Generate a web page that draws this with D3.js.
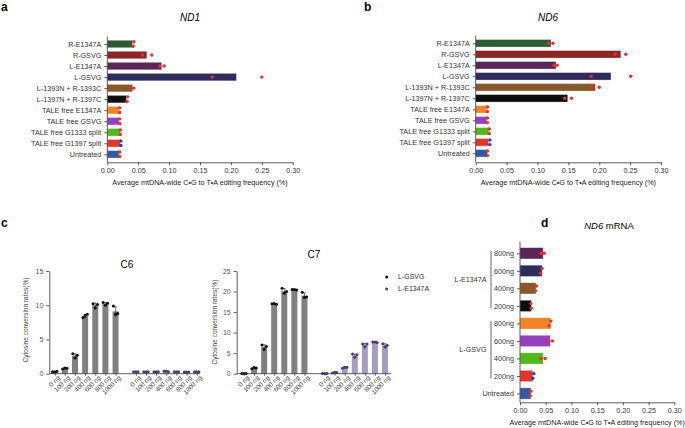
<!DOCTYPE html>
<html>
<head>
<meta charset="utf-8">
<script src="https://cdn.jsdelivr.net/npm/d3@7"></script>
<style>
body { margin: 0; background: #fff; }
svg { font-family: Arial, "Liberation Sans", Helvetica, sans-serif; }
.axis text { fill: #333; }
.axis line, .axis path { stroke: #333; stroke-width: 0.8; }
</style>
</head>
<body>
<div id="chart"></div>
<script>
// ---- panel a / b data ----
var samples = ["R-E1347A", "R-GSVG", "L-E1347A", "L-GSVG", "L-1393N + R-1393C", "L-1397N + R-1397C",
    "TALE free E1347A", "TALE free GSVG", "TALE free G1333 split", "TALE free G1397 split", "Untreated"];
var sampleColors = ["#2d5b33", "#8c2525", "#5a2557", "#2f2c5c", "#87592b", "#0e0e0e",
    "#f28329", "#9440bf", "#52b81c", "#e0372a", "#3457a6"];
var sampleDotColors = ["#e8312a", "#e8312a", "#e8312a", "#e8312a", "#e8312a", "#e8312a",
    "#e8312a", "#e8312a", "#e8312a", "#2f3fb0", "#e8312a"];
var nd1Means = [0.041, 0.064, 0.088, 0.209, 0.041, 0.031, 0.019, 0.019, 0.021, 0.021, 0.019];
var nd1Rep1  = [0.043, 0.057, 0.085, 0.170, 0.039, 0.033, 0.020, 0.020, 0.021, 0.022, 0.020];
var nd1Rep2  = [0.042, 0.072, 0.092, 0.250, 0.043, 0.032, 0.020, 0.020, 0.021, 0.022, 0.020];
var nd6Means = [0.122, 0.235, 0.130, 0.219, 0.194, 0.149, 0.018, 0.018, 0.021, 0.021, 0.019];
var nd6Rep1  = [0.118, 0.226, 0.127, 0.187, 0.189, 0.144, 0.019, 0.019, 0.022, 0.023, 0.019];
var nd6Rep2  = [0.125, 0.243, 0.132, 0.251, 0.200, 0.155, 0.019, 0.019, 0.022, 0.023, 0.019];
var editTicks = [0, 0.05, 0.10, 0.15, 0.20, 0.25, 0.30];
var editTitle = "Average mtDNA-wide C\u2022G to T\u2022A editing frequency (%)";

// ---- panel c data ----
var doses = ["0 ng", "100 ng", "200 ng", "400 ng", "600 ng", "800 ng", "1000 ng"];
var editors = ["L-GSVG", "L-E1347A"];
var editorBarColors = ["#808080", "#a69dc0"];
var editorDotColors = ["#111111", "#4b3d7c"];
var c6GsvgMeans = [0.3, 0.8, 2.6, 8.4, 10.0, 10.2, 9.1];
var c6GsvgReps = [[0.3, 0.25, 0.35], [0.7, 0.85, 0.8], [2.9, 2.3, 2.7], [8.2, 8.5, 8.7], [10.2, 9.6, 10.1], [10.4, 10.0, 10.3], [9.9, 8.7, 8.8]];
var c6E1347aMeans = [0.3, 0.3, 0.3, 0.35, 0.3, 0.25, 0.3];
var c6E1347aReps = [[0.3, 0.3, 0.3], [0.3, 0.3, 0.3], [0.3, 0.3, 0.3], [0.35, 0.4, 0.3], [0.3, 0.3, 0.3], [0.25, 0.25, 0.25], [0.3, 0.3, 0.3]];
var c7GsvgMeans = [0.05, 1.4, 6.5, 17.0, 20.1, 20.5, 19.0];
var c7GsvgReps = [[0.05, 0.05, 0.05], [1.2, 1.5, 1.4], [7.0, 5.9, 6.6], [17.0, 17.1, 16.9], [20.8, 19.6, 20.0], [20.5, 20.5, 20.4], [19.8, 18.6, 18.7]];
var c7E1347aMeans = [0.05, 0.3, 1.5, 4.4, 7.0, 7.7, 6.9];
var c7E1347aReps = [[0.05, 0.05, 0.05], [0.2, 0.35, 0.3], [1.3, 1.6, 1.6], [4.8, 4.0, 4.6], [7.2, 6.5, 7.2], [7.7, 7.7, 7.6], [7.3, 6.5, 6.9]];
var c6Ticks = [0, 5, 10, 15];
var c7Ticks = [0, 5, 10, 15, 20, 25];

// ---- panel d data ----
var mrnaLabels = ["800ng", "600ng", "400ng", "200ng", "800ng", "600ng", "400ng", "200ng", "Untreated"];
var mrnaGroupOf = ["L-E1347A", "L-E1347A", "L-E1347A", "L-E1347A", "L-GSVG", "L-GSVG", "L-GSVG", "L-GSVG", null];
var mrnaGroups = ["L-E1347A", "L-GSVG"];
var mrnaColors = ["#5a2557", "#2f2c5c", "#87592b", "#0e0e0e", "#f28329", "#9440bf", "#52b81c", "#e0372a", "#3457a6"];
var mrnaDotColors = ["#e8312a", "#e8312a", "#e8312a", "#e8312a", "#e8312a", "#e8312a", "#e8312a", "#2f3fb0", "#e8312a"];
var mrnaMeans = [0.045, 0.043, 0.031, 0.022, 0.060, 0.059, 0.045, 0.025, 0.021];
var mrnaRep1  = [0.041, 0.043, 0.032, 0.021, 0.060, 0.054, 0.041, 0.027, 0.021];
var mrnaRep2  = [0.047, 0.040, 0.030, 0.022, 0.057, 0.063, 0.049, 0.025, 0.020];

var svg = d3.select("#chart").append("svg")
    .attr("width", 685)
    .attr("height", 428);

function panelLetter(t, x, y) {
    svg.append("text").attr("x", x).attr("y", y)
        .style("font-size", "12px").style("font-weight", "bold").text(t);
}

// horizontal bar panel (a, b, d)
function hPanel(cfg) {
    var g = svg.append("g");
    var x = d3.scaleLinear().domain([0, 0.3]).range(cfg.xr);
    var y = d3.scalePoint().domain(d3.range(cfg.labels.length)).range(cfg.yr);

    g.selectAll("rect.bar")
        .data(cfg.means)
        .enter()
        .append("rect")
        .attr("x", x(0))
        .attr("y", (d, i) => y(i) - cfg.bh / 2)
        .attr("width", d => x(d) - x(0))
        .attr("height", cfg.bh)
        .attr("fill", (d, i) => cfg.colors[i])
        .attr("stroke", "#ffffff")
        .attr("stroke-opacity", 0.45)
        .attr("stroke-width", 0.7);

    cfg.means.forEach(function (m, i) {
        var reps = [cfg.rep1[i], cfg.rep2[i]];
        var stack = Math.abs(x(reps[0]) - x(reps[1])) < 2;
        reps.forEach(function (v, j) {
            g.append("circle")
                .attr("cx", x(v))
                .attr("cy", y(i) + (stack ? (j ? 2.3 : -2.3) : 0))
                .attr("r", 1.7)
                .attr("fill", cfg.dotColors[i]);
        });
    });

    var xa = g.append("g")
        .attr("class", "axis")
        .attr("transform", "translate(0," + cfg.axisY + ")")
        .call(d3.axisBottom(x).tickValues(editTicks).tickFormat(d3.format(".2f")).tickSize(3).tickSizeOuter(0));
    xa.selectAll("text").style("font-size", "7.2px");

    var ya = g.append("g")
        .attr("class", "axis")
        .attr("transform", "translate(" + x(0) + ",0)")
        .call(d3.axisLeft(y).tickFormat(i => cfg.labels[i]).tickSize(3).tickSizeOuter(0));
    ya.select(".domain").remove();
    ya.selectAll("text").style("font-size", "7.2px");
    g.append("line")
        .attr("x1", x(0)).attr("x2", x(0))
        .attr("y1", cfg.yTop).attr("y2", cfg.axisY)
        .attr("stroke", "#333").attr("stroke-width", 0.8);

    g.append("text")
        .attr("x", (cfg.xr[0] + cfg.xr[1]) / 2)
        .attr("y", cfg.axisY + 23)
        .attr("text-anchor", "middle")
        .style("font-size", "7.2px")
        .style("fill", "#222")
        .text(editTitle);
    return { x: x, y: y, g: g };
}

// ---- a ----
panelLetter("a", 1, 11);
hPanel({ xr: [107.3, 292.7], yr: [44, 154.3], yTop: 36.5, axisY: 162.3, bh: 7.5,
    labels: samples, means: nd1Means, rep1: nd1Rep1, rep2: nd1Rep2,
    colors: sampleColors, dotColors: sampleDotColors });
svg.append("text").attr("x", 190).attr("y", 21).attr("text-anchor", "middle")
    .style("font-size", "10px").style("font-style", "italic").text("ND1");

// ---- b ----
panelLetter("b", 364, 11);
hPanel({ xr: [475.7, 661], yr: [43.3, 153.3], yTop: 35.5, axisY: 162.3, bh: 7.5,
    labels: samples, means: nd6Means, rep1: nd6Rep1, rep2: nd6Rep2,
    colors: sampleColors, dotColors: sampleDotColors });
svg.append("text").attr("x", 548).attr("y", 21).attr("text-anchor", "middle")
    .style("font-size", "10px").style("font-style", "italic").text("ND6");

// ---- c ----
panelLetter("c", 1, 227);

function cPanel(cfg) {
    var g = svg.append("g");
    var keys = [];
    editors.forEach(function (e, k) {
        doses.forEach(function (d) { keys.push(e + "|" + d); });
        if (k === 0) keys.push("gap");
    });
    var x = d3.scalePoint().domain(keys).range(cfg.xr);
    var y = d3.scaleLinear().domain([0, cfg.max]).range([cfg.axisY, cfg.top]);
    var bw = 6;
    var groups = [[cfg.gMeans, cfg.gReps], [cfg.eMeans, cfg.eReps]];

    groups.forEach(function (grp, k) {
        var data = grp[0].map((m, i) => ({ key: editors[k] + "|" + doses[i], mean: m, reps: grp[1][i] }));
        g.selectAll("rect.b" + k)
            .data(data)
            .enter()
            .append("rect")
            .attr("x", d => x(d.key) - bw / 2)
            .attr("y", d => y(d.mean))
            .attr("width", bw)
            .attr("height", d => y(0) - y(d.mean))
            .attr("fill", editorBarColors[k]);
        data.forEach(function (d) {
            var sd = d3.deviation(d.reps);
            var cx = x(d.key);
            g.append("line").attr("x1", cx).attr("x2", cx)
                .attr("y1", y(d.mean - sd)).attr("y2", y(d.mean + sd))
                .attr("stroke", "#222").attr("stroke-width", 0.6);
            [d.mean - sd, d.mean + sd].forEach(function (v) {
                g.append("line").attr("x1", cx - 1.5).attr("x2", cx + 1.5)
                    .attr("y1", y(v)).attr("y2", y(v))
                    .attr("stroke", "#222").attr("stroke-width", 0.6);
            });
            d.reps.forEach(function (v, j) {
                g.append("circle")
                    .attr("cx", cx + (j - 1) * 2.2)
                    .attr("cy", y(v))
                    .attr("r", 1.5)
                    .attr("fill", editorDotColors[k]);
            });
        });
    });

    var ya = g.append("g")
        .attr("class", "axis")
        .attr("transform", "translate(" + cfg.axisX + ",0)")
        .call(d3.axisLeft(y).tickValues(cfg.ticks).tickSize(3).tickSizeOuter(0));
    ya.selectAll("text").style("font-size", "7px").style("fill", "#555");

    var xa = g.append("g")
        .attr("class", "axis")
        .attr("transform", "translate(0," + cfg.axisY + ")")
        .call(d3.axisBottom(x).tickValues(keys.filter(k => k !== "gap"))
            .tickFormat(k => k.split("|")[1]).tickSize(2).tickSizeOuter(0));
    xa.select(".domain").remove();
    xa.selectAll("text")
        .style("font-size", "6.5px")
        .style("fill", "#444")
        .attr("text-anchor", "end")
        .attr("dy", null)
        .attr("x", 1.5)
        .attr("y", 4)
        .attr("transform", "rotate(-45) translate(-1,3)");
    g.append("line")
        .attr("x1", cfg.axisX).attr("x2", cfg.xEnd)
        .attr("y1", cfg.axisY).attr("y2", cfg.axisY)
        .attr("stroke", "#333").attr("stroke-width", 0.8);

    g.append("text")
        .attr("transform", "translate(" + cfg.titleX + "," + cfg.titleY + ") rotate(-90)")
        .attr("text-anchor", "middle")
        .style("font-size", "6.5px")
        .style("fill", "#444")
        .text("Cytosine conversion rates(%)");
    g.append("text")
        .attr("x", cfg.headX).attr("y", cfg.headY)
        .attr("text-anchor", "middle")
        .style("font-size", "10px")
        .text(cfg.head);
}

cPanel({ xr: [54.7, 196.7], axisX: 49.3, xEnd: 200, axisY: 373.7, top: 271, max: 15, ticks: c6Ticks,
    gMeans: c6GsvgMeans, gReps: c6GsvgReps, eMeans: c6E1347aMeans, eReps: c6E1347aReps,
    titleX: 28, titleY: 320, head: "C6", headX: 127, headY: 268 });
cPanel({ xr: [244, 385], axisX: 236.7, xEnd: 391, axisY: 373.7, top: 271, max: 25, ticks: c7Ticks,
    gMeans: c7GsvgMeans, gReps: c7GsvgReps, eMeans: c7E1347aMeans, eReps: c7E1347aReps,
    titleX: 217, titleY: 322, head: "C7", headX: 314, headY: 258 });

// legend c
editors.forEach(function (e, k) {
    svg.append("circle").attr("cx", 386.7).attr("cy", 277 + k * 12).attr("r", 1.5)
        .attr("fill", editorDotColors[k]);
    svg.append("text").attr("x", 398).attr("y", 277 + k * 12).attr("dy", "0.35em")
        .style("font-size", "7px").style("fill", "#333").text(e);
});

// ---- d ----
panelLetter("d", 541, 227);
var pd = hPanel({ xr: [520, 674.3], yr: [253.3, 393.5], yTop: 241.7, axisY: 402.3, bh: 11.3,
    labels: mrnaLabels, means: mrnaMeans, rep1: mrnaRep1, rep2: mrnaRep2,
    colors: mrnaColors, dotColors: mrnaDotColors });
var tD = svg.append("text").attr("x", 609).attr("y", 229).attr("text-anchor", "middle")
    .style("font-size", "9.5px");
tD.append("tspan").style("font-style", "italic").text("ND6");
tD.append("tspan").text(" mRNA");

mrnaGroups.forEach(function (name) {
    var idx = d3.range(mrnaLabels.length).filter(i => mrnaGroupOf[i] === name);
    var y0 = pd.y(idx[0]) - 2.5;
    var y1 = pd.y(idx[idx.length - 1]) + 2.5;
    svg.append("line")
        .attr("x1", 491).attr("x2", 491)
        .attr("y1", y0).attr("y2", y1)
        .attr("stroke", "#a0a0a0").attr("stroke-width", 1.6);
    svg.append("text")
        .attr("x", 486.5)
        .attr("y", (pd.y(idx[1]) + pd.y(idx[2])) / 2)
        .attr("dy", "0.35em")
        .attr("text-anchor", "end")
        .style("font-size", "7.2px")
        .style("fill", "#333")
        .text(name);
});
</script>
</body>
</html>
